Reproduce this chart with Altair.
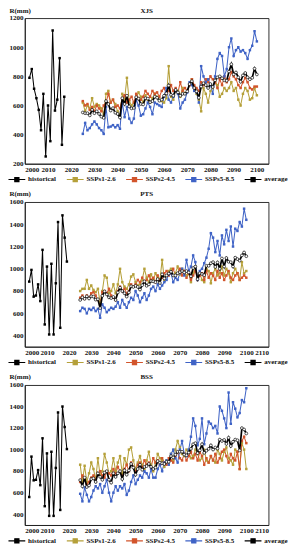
import altair as alt
import pandas as pd

SERIES = ["historical", "SSPs1-2.6", "SSPs2-4.5", "SSPs5-8.5", "average"]
COLORS = ["#000000", "#B5A03A", "#D2542B", "#3F63C6", "#000000"]
FUT_YEARS = list(range(2025, 2101))
PANELS = ["XJS", "PTS", "BSS"]
Y_LABEL = "R(mm)"

# ---------------- XJS ----------------
xjs_hist_years = list(range(2002, 2018))
xjs_hist = [790, 850, 715, 650, 570, 430, 680, 250, 600, 355, 1115, 565, 640, 925, 330, 660]
xjs_ssp126 = [620, 560, 600, 580, 650, 590, 610, 600, 580, 540, 680, 700, 620, 640, 610, 560,
              530, 680, 640, 790, 630, 600, 620, 650, 690, 660, 620, 670, 640, 620, 650, 680,
              660, 640, 630, 620, 650, 870, 660, 640, 700, 700, 660, 720, 680, 700, 740, 780,
              720, 680, 640, 560, 720, 680, 620, 700, 720, 760, 740, 660, 680, 720, 700, 720,
              760, 700, 720, 640, 600, 680, 720, 700, 640, 650, 720, 670]
xjs_ssp245 = [630, 600, 610, 570, 590, 560, 600, 580, 560, 600, 620, 680, 620, 640, 590, 600,
              580, 650, 670, 620, 640, 660, 620, 680, 650, 640, 660, 700, 680, 660, 700, 680,
              690, 660, 700, 720, 680, 700, 740, 700, 720, 690, 760, 700, 720, 700, 740, 780,
              740, 720, 700, 760, 740, 780, 760, 800, 780, 760, 720, 780, 740, 800, 760, 780,
              830, 800, 780, 740, 720, 760, 790, 760, 720, 710, 730, 730]
xjs_ssp585 = [405, 480, 430, 445, 470, 490, 470, 445, 430, 405, 590, 450, 455, 465, 450, 465,
              440, 620, 520, 590, 510, 480, 510, 640, 600, 530, 540, 580, 620, 590, 540, 620,
              610, 600, 590, 660, 720, 640, 620, 660, 700, 680, 580, 620, 640, 690, 760, 740,
              700, 690, 620, 870, 800, 760, 780, 740, 680, 800, 920, 960, 940, 800, 850, 1000,
              1060, 940, 980, 1000, 970, 980, 960, 920, 980, 1010, 1110, 1040]
xjs_avg = [552, 547, 547, 532, 570, 547, 560, 542, 523, 515, 630, 610, 565, 582, 550, 542,
           517, 650, 610, 667, 593, 580, 583, 657, 647, 610, 607, 650, 647, 623, 630, 660,
           653, 633, 640, 667, 683, 737, 673, 667, 707, 690, 667, 680, 680, 697, 747, 767,
           720, 697, 653, 730, 753, 740, 720, 747, 727, 773, 793, 800, 787, 773, 770, 833,
           883, 813, 827, 793, 763, 807, 823, 793, 780, 790, 853, 813]

# ---------------- PTS ----------------
pts_hist_years = list(range(2002, 2020))
pts_hist = [885, 990, 750, 760, 860, 710, 1170, 500, 1020, 410, 1045, 410, 870, 1420, 470, 1480, 1280, 1065]
pts_ssp126 = [800, 820, 820, 900, 820, 850, 810, 790, 820, 700, 800, 940, 920, 780, 800, 860,
              780, 860, 1000, 880, 840, 820, 860, 930, 950, 880, 850, 860, 900, 1000, 920, 880,
              950, 900, 960, 920, 900, 1080, 900, 940, 980, 1000, 940, 960, 1020, 950, 1000, 980,
              940, 960, 880, 960, 1020, 920, 960, 900, 880, 1000, 980, 870, 960, 1000, 940, 960,
              1020, 940, 1000, 960, 880, 960, 1000, 960, 900, 1060, 960, 980]
pts_ssp245 = [740, 760, 730, 760, 740, 780, 790, 760, 720, 680, 790, 800, 780, 820, 760, 740,
              720, 800, 840, 800, 820, 780, 800, 860, 840, 860, 900, 880, 920, 880, 900, 940,
              900, 920, 880, 940, 900, 920, 960, 980, 940, 960, 1000, 940, 960, 1000, 940, 980,
              920, 960, 900, 940, 980, 900, 940, 960, 900, 980, 920, 960, 940, 900, 980, 920,
              960, 900, 940, 980, 920, 900, 940, 960, 900, 920, 940, 920]
pts_ssp585 = [620, 650, 640, 600, 640, 630, 650, 620, 640, 560, 680, 650, 610, 630, 650, 640,
              660, 700, 650, 720, 680, 650, 700, 740, 720, 800, 760, 700, 740, 780, 720, 760,
              820, 840, 800, 860, 820, 850, 880, 900, 950, 960, 880, 920, 900, 960, 1000, 940,
              1080, 980, 1020, 1120, 1060, 900, 980, 1000, 1050, 1100, 1180, 1320, 1280, 1150, 1250, 1120,
              1300, 1220, 1350, 1250, 1380, 1200, 1360, 1340, 1420, 1380, 1540, 1440]
pts_avg = [720, 743, 730, 753, 733, 753, 750, 723, 727, 647, 757, 797, 770, 743, 737, 747,
           720, 787, 830, 800, 780, 750, 787, 843, 837, 847, 837, 813, 853, 887, 847, 860,
           890, 887, 880, 907, 873, 950, 913, 940, 957, 973, 940, 940, 960, 970, 980, 967,
           980, 967, 933, 1007, 1020, 907, 960, 953, 943, 1027, 1027, 1050, 1060, 1017, 1057, 1000,
           1093, 1020, 1097, 1063, 1060, 1020, 1100, 1087, 1073, 1120, 1147, 1113]

# ---------------- BSS ----------------
bss_hist_years = list(range(2002, 2020))
bss_hist = [560, 935, 715, 720, 810, 670, 1105, 475, 965, 385, 980, 385, 830, 1345, 440, 1400, 1210, 1005]
bss_ssp126 = [860, 700, 850, 700, 780, 880, 820, 720, 920, 760, 800, 960, 880, 780, 800, 920,
              800, 880, 940, 780, 920, 860, 1000, 1020, 900, 820, 880, 940, 860, 820, 900, 980,
              860, 800, 880, 960, 920, 900, 840, 900, 880, 960, 900, 1000, 1080, 1020, 960, 940,
              1000, 980, 920, 940, 1000, 960, 900, 920, 1000, 900, 880, 940, 900, 880, 1000, 960,
              900, 980, 1020, 920, 900, 860, 1000, 980, 820, 1060, 1000, 820]
bss_ssp245 = [700, 760, 720, 680, 700, 740, 760, 720, 780, 800, 760, 740, 800, 780, 760, 820,
              780, 840, 800, 760, 820, 860, 800, 880, 840, 800, 860, 880, 840, 900, 860, 880,
              840, 920, 880, 900, 860, 920, 880, 860, 920, 900, 880, 940, 980, 920, 900, 960,
              900, 940, 980, 920, 960, 900, 980, 940, 860, 920, 880, 940, 900, 960, 880, 920,
              980, 1000, 940, 880, 960, 920, 900, 980, 820, 1080, 1120, 1060]
bss_ssp585 = [590, 520, 650, 580, 520, 560, 620, 660, 640, 680, 600, 660, 720, 600, 520, 600,
              660, 620, 660, 640, 680, 580, 620, 700, 760, 680, 720, 760, 740, 800, 780, 740,
              820, 740, 740, 820, 860, 800, 880, 900, 860, 960, 1000, 920, 880, 1000, 1080, 960,
              940, 1000, 1120, 1290, 1220, 1040, 1100, 1290, 1050, 1150, 1260, 1240, 1200, 1220, 1150, 1400,
              1360, 1290, 1200, 1530, 1240, 1440, 1380, 1300, 1340, 1460, 1440, 1570]
bss_avg = [717, 660, 740, 653, 667, 727, 733, 700, 780, 747, 720, 787, 800, 720, 693, 780,
           747, 780, 800, 727, 807, 767, 807, 867, 833, 767, 820, 860, 813, 840, 847, 867,
           840, 820, 833, 893, 880, 873, 867, 887, 887, 940, 927, 953, 980, 980, 980, 953,
           947, 973, 1007, 1050, 1060, 967, 993, 1050, 970, 990, 1007, 1040, 1000, 1020, 1010, 1093,
           1080, 1090, 1053, 1110, 1033, 1073, 1093, 1087, 993, 1200, 1187, 1150]

FONT = "Liberation Serif"
# legend glyph: a line with a small square marker in the middle
LEG_PATH = "M-2,0H-0.5M0.5,0H2M-0.5,-0.5H0.5V0.5H-0.5Z"


def make_df(hist_years, hist, s126, s245, s585, avg):
    rows = []
    for y, v in zip(hist_years, hist):
        rows.append(("historical", y, v))
    for name, arr in (("SSPs1-2.6", s126), ("SSPs2-4.5", s245), ("SSPs5-8.5", s585), ("average", avg)):
        for y, v in zip(FUT_YEARS, arr):
            rows.append((name, y, v))
    return pd.DataFrame(rows, columns=["series", "year", "R"])


def label_layer(text, x, y):
    return alt.Chart(pd.DataFrame({"t": [text]})).mark_text(
        font=FONT, fontSize=7.5, fontWeight="bold", color="#111", baseline="middle", align="center"
    ).encode(text="t:N", x=alt.value(x), y=alt.value(y))


def panel(title, df, xmax, xticks, ydom, yticks, h, w=261):
    xenc = alt.X("year:Q", scale=alt.Scale(domain=[2000, xmax], nice=False, zero=False),
                 axis=alt.Axis(values=xticks, format="d", title=None))
    yenc = alt.Y("R:Q", scale=alt.Scale(domain=ydom, nice=False, zero=False),
                 axis=alt.Axis(values=yticks, format="d", title=None))
    legend = alt.Legend(title=None, orient="none", legendX=-14, legendY=h + 11,
                        direction="horizontal", columns=5, symbolType=LEG_PATH, symbolSize=81,
                        symbolStrokeWidth=1.2, labelFont=FONT,
                        labelFontSize=7.5, labelFontWeight="bold", labelColor="#111",
                        columnPadding=8.5, labelOffset=6.5)
    color = alt.Color("series:N", scale=alt.Scale(domain=SERIES, range=COLORS), legend=legend)
    base = alt.Chart(df)
    main = base.transform_filter(alt.datum.series != "average")
    avg = base.transform_filter(alt.datum.series == "average")
    lines = main.mark_line(strokeWidth=1.1).encode(x=xenc, y=yenc, color=color)
    pts = main.mark_point(shape="square", size=7, filled=True, opacity=1).encode(x=xenc, y=yenc, color=color)
    aline = avg.mark_line(strokeWidth=1.8).encode(x=xenc, y=yenc, color=color)
    apts = avg.mark_point(shape="circle", size=9, filled=True, fill="white", stroke="black",
                          strokeWidth=0.7, opacity=1).encode(x=xenc, y=yenc)
    name = label_layer(title, w / 2, -8)
    ylab = label_layer(Y_LABEL, -5, -8)
    return alt.layer(lines, pts, aline, apts, name, ylab).properties(width=w, height=h)


p1 = panel(PANELS[0], make_df(xjs_hist_years, xjs_hist, xjs_ssp126, xjs_ssp245, xjs_ssp585, xjs_avg),
           2105, list(range(2000, 2101, 10)), [200, 1200], list(range(200, 1201, 200)), 156)
p2 = panel(PANELS[1], make_df(pts_hist_years, pts_hist, pts_ssp126, pts_ssp245, pts_ssp585, pts_avg),
           2110, list(range(2000, 2111, 10)), [300, 1600], list(range(400, 1601, 200)), 155)
p3 = panel(PANELS[2], make_df(bss_hist_years, bss_hist, bss_ssp126, bss_ssp245, bss_ssp585, bss_avg),
           2110, list(range(2000, 2111, 10)), [300, 1600], list(range(400, 1601, 200)), 150)

chart = alt.vconcat(p1, p2, p3, spacing=5).resolve_scale(
    x="independent", y="independent", color="independent"
).resolve_legend(color="independent").properties(
    padding={"top": -22, "left": 0, "right": 0, "bottom": 0}
).configure_view(
    stroke="#222", strokeWidth=1
).configure_axis(
    labelFont=FONT, labelFontSize=7.5, labelFontWeight="bold", labelColor="#111",
    grid=False, ticks=False, labelPadding=2, domainColor="#222"
)

chart.save("out.html", embed_options={"renderer": "svg", "actions": False})
